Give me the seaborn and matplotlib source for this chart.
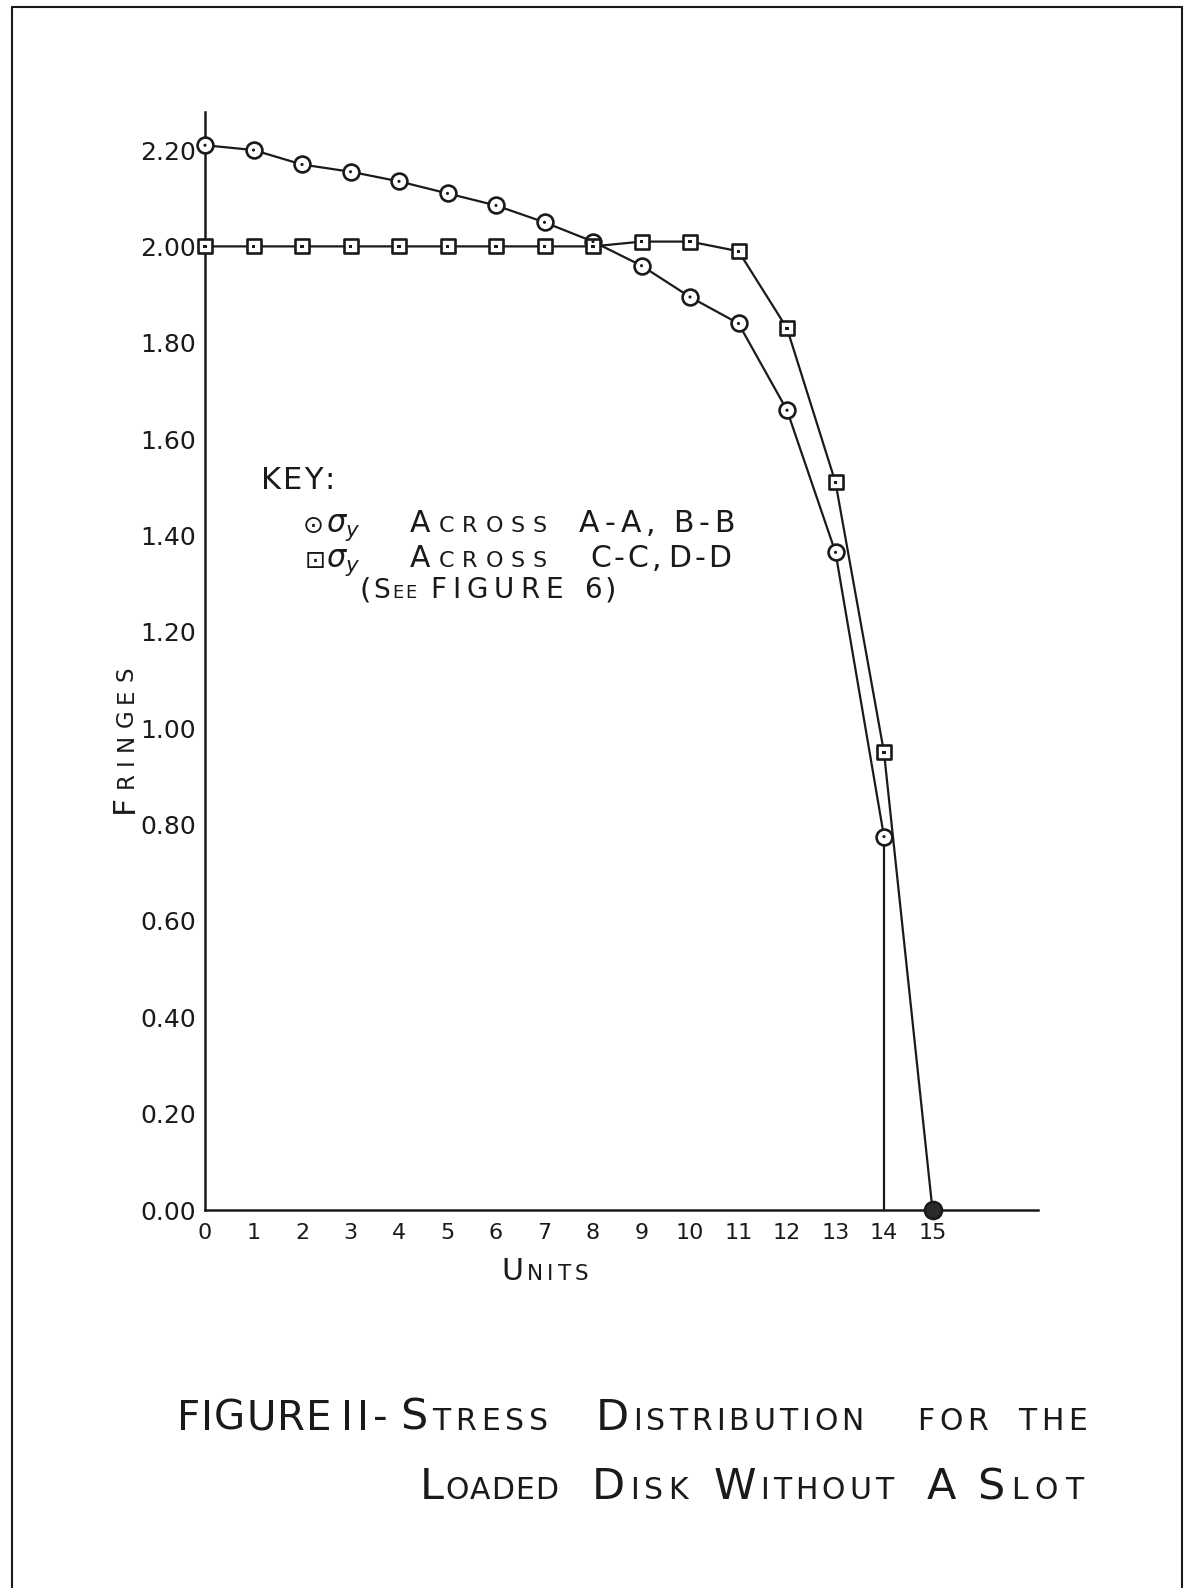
import matplotlib
matplotlib.use("Agg")
import matplotlib.pyplot as plt
import seaborn as sns
import pandas as pd
from matplotlib.lines import Line2D

# ---------------- data ----------------
units_circle = [0, 1, 2, 3, 4, 5, 6, 7, 8, 9, 10, 11, 12, 13, 14]
fringes_circle = [2.21, 2.20, 2.17, 2.155, 2.135, 2.11, 2.085, 2.05, 2.01,
                  1.96, 1.895, 1.84, 1.66, 1.365, 0.775]
circle_tail_units = [14]
circle_tail_fringes = [0.00]

units_square = [0, 1, 2, 3, 4, 5, 6, 7, 8, 9, 10, 11, 12, 13, 14, 15]
fringes_square = [2.00, 2.00, 2.00, 2.00, 2.00, 2.00, 2.00, 2.00, 2.00,
                  2.01, 2.01, 1.99, 1.83, 1.51, 0.95, 0.00]

x_ticks = [0, 1, 2, 3, 4, 5, 6, 7, 8, 9, 10, 11, 12, 13, 14, 15]
x_tick_labels = ["0", "1", "2", "3", "4", "5", "6", "7", "8", "9",
                 "10", "11", "12", "13", "14", "15"]
y_ticks = [0.00, 0.20, 0.40, 0.60, 0.80, 1.00, 1.20, 1.40, 1.60, 1.80, 2.00, 2.20]
y_tick_labels = ["0.00", "0.20", "0.40", "0.60", "0.80", "1.00", "1.20",
                 "1.40", "1.60", "1.80", "2.00", "2.20"]

# ---------------- style ----------------
sns.set_theme(style="white")
plt.rcParams["font.family"] = ["DejaVu Sans"]
plt.rcParams["mathtext.fontset"] = "dejavusans"
INK = "#1a1a1a"

W, H = 1190, 1588
fig = plt.figure(figsize=(W / 100, H / 100), dpi=100)
fig.patch.set_facecolor("white")

x0_px, x_end_px, unit_px = 205, 1038, 48.5
y0_px, y_top_px, fr_px = 1210, 112, 481.8
ax = fig.add_axes([x0_px / W, 1 - y0_px / H,
                   (x_end_px - x0_px) / W, (y0_px - y_top_px) / H])
ax.set_facecolor("white")

df_circle_line = pd.DataFrame({"units": units_circle + circle_tail_units,
                               "fringes": fringes_circle + circle_tail_fringes})
df_square_line = pd.DataFrame({"units": units_square, "fringes": fringes_square})

sns.lineplot(data=df_circle_line, x="units", y="fringes", sort=False,
             estimator=None, color=INK, lw=1.6, ax=ax, zorder=2)
sns.lineplot(data=df_square_line, x="units", y="fringes", sort=False,
             estimator=None, color=INK, lw=1.6, ax=ax, zorder=2)

# circle markers with centre dots
sns.scatterplot(x=units_circle, y=fringes_circle, marker="o", s=130,
                color="white", edgecolor=INK, linewidth=1.9, zorder=3,
                clip_on=False, ax=ax)
sns.scatterplot(x=units_circle, y=fringes_circle, marker="o", s=5,
                color=INK, edgecolor="none", zorder=4, clip_on=False, ax=ax)
# square markers with centre dots
sns.scatterplot(x=units_square[:-1], y=fringes_square[:-1], marker="s", s=110,
                color="white", edgecolor=INK, linewidth=1.9, zorder=3,
                clip_on=False, ax=ax)
sns.scatterplot(x=units_square[:-1], y=fringes_square[:-1], marker="s", s=5,
                color=INK, edgecolor="none", zorder=4, clip_on=False, ax=ax)
sns.scatterplot(x=units_square[-1:], y=fringes_square[-1:], marker="o", s=150,
                color="#2a2a2a", edgecolor=INK, linewidth=1.9, zorder=4,
                clip_on=False, ax=ax)

ax.set_xlim(0, (x_end_px - x0_px) / unit_px)
ax.set_ylim(0, (y0_px - y_top_px) / fr_px)
ax.set_xticks(x_ticks)
ax.set_xticklabels(x_tick_labels)
ax.set_yticks(y_ticks)
ax.set_yticklabels(y_tick_labels)
ax.set_xlabel("")
ax.set_ylabel("")
for s in ["top", "right"]:
    ax.spines[s].set_visible(False)
for s in ["left", "bottom"]:
    ax.spines[s].set_linewidth(1.8)
    ax.spines[s].set_color(INK)
ax.tick_params(axis="both", direction="inout", length=5, width=1.4,
               colors=INK, labelcolor=INK)
ax.tick_params(axis="x", labelsize=16, pad=7)
ax.tick_params(axis="y", labelsize=18, pad=4)
ax.grid(False)

# ---------------- hand-lettered small-caps text ----------------
renderer = fig.canvas.get_renderer()


def word(x, ybase, parts, track, rot=0):
    """parts: list of (text, fontsize, is_math). Positions in pixels from top-left."""
    pos = x if rot == 0 else ybase
    for txt, size, is_math in parts:
        pieces = [txt] if is_math else list(txt)
        for ch in pieces:
            t = fig.text(0, 0, ch, fontsize=size, ha="left", va="baseline",
                         color=INK)
            w = t.get_window_extent(renderer).width
            if rot == 0:
                t.set_position((pos / W, 1 - ybase / H))
                pos += w + track
            else:
                t.set_rotation(rot)
                t.set_rotation_mode("anchor")
                t.set_position((x / W, 1 - pos / H))
                pos -= w + track


# axis labels
word(501, 1280, [("U", 21.5, False), ("NITS", 15.5, False)], 4)
word(133, 813, [("F", 22.5, False), ("RINGES", 16.5, False)], 7, rot=90)

# key
KB, KS = 21.5, 16
word(261, 489, [("KEY:", 22, False)], 2)
word(303, 533, [("\u2299", 18, False)], 0)
word(326, 532, [(r"$\sigma_y$", 22, True)], 0)
word(410, 532, [("A", KB, False), ("CROSS", KS, False)], 8)
word(579, 532, [("A-A,", KB, False)], 5)
word(673, 532, [("B-B", KB, False)], 5)
word(305, 568, [("\u22a1", 18, False)], 0)
word(326, 567, [(r"$\sigma_y$", 22, True)], 0)
word(410, 567, [("A", KB, False), ("CROSS", KS, False)], 8)
word(590, 567, [("C-C,", KB, False)], 3)
word(668, 567, [("D-D", KB, False)], 3)
word(360, 598, [("(", 21, False), ("S", 19, False), ("EE", 13, False)], 2)
word(430, 598, [("FIGURE", 20, False)], 6)
word(584, 598, [("6", 20, False), (")", 21, False)], 3)

# figure caption
TB, TS = 31, 21.5
yl1, yl2 = 1430, 1499
word(177, yl1, [("FIGURE", 29, False)], 1)
word(341, yl1, [("II-", 29, False)], 4)
word(400, yl1, [("S", TB, False), ("TRESS", TS, False)], 5)
word(596, yl1, [("D", TB, False), ("ISTRIBUTION", TS, False)], 4)
word(917, yl1, [("FOR", TS, False)], 5)
word(1018, yl1, [("THE", TS, False)], 5)
word(420, yl2, [("L", TB, False), ("OADED", TS, False)], 1)
word(592, yl2, [("D", TB, False), ("ISK", TS, False)], 5)
word(714, yl2, [("W", TB, False), ("ITHOUT", TS, False)], 4)
word(927, yl2, [("A", TB, False)], 4)
word(977, yl2, [("S", TB, False), ("LOT", TS, False)], 7)

# page frame
fl, ft, fr = 12, 7, 1182
for xs, ys in [([fl, fl], [ft, H + 10]), ([fl, fr], [ft, ft]), ([fr, fr], [ft, H + 10])]:
    fig.add_artist(Line2D([v / W for v in xs], [1 - v / H for v in ys],
                          color=INK, lw=1.5))

fig.savefig("out.png", dpi=100, facecolor="white")
